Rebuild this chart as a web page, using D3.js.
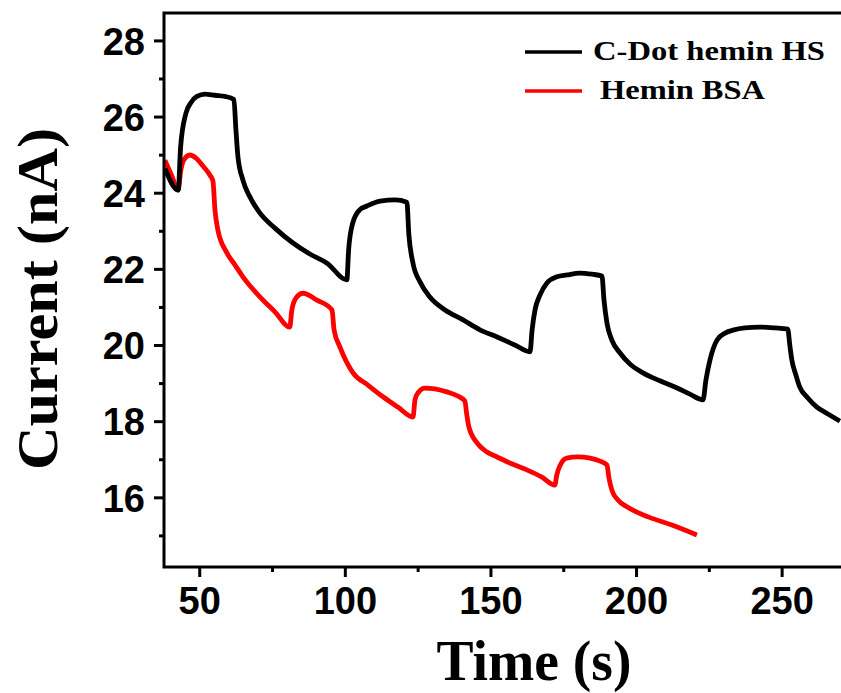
<!DOCTYPE html>
<html>
<head>
<meta charset="utf-8">
<script src="https://cdn.jsdelivr.net/npm/d3@7"></script>
<style>
  html, body { margin: 0; padding: 0; background: #fff; }
  svg { display: block; }
</style>
</head>
<body>
<script>
// ---- data ----
const seriesNames = ["C-Dot hemin HS", "Hemin BSA"];
const seriesColors = ["#000000", "#ff0000"];

const timeHS = [38.2, 42.8, 43.6, 45.4, 47.2, 49.2, 52.0, 55.4, 58.8, 61.9,
  62.6, 63.3, 65.0, 67.4, 70.8, 76.0, 82.2, 88.0, 93.9, 100.7,
  101.3, 102.7, 105.1, 107.6, 112.1, 117.3, 121.3,
  122.0, 123.4, 125.8, 129.2, 134.4, 140.6, 146.4, 152.3, 158.4, 163.6,
  164.3, 165.3, 167.0, 169.4, 172.8, 176.3, 180.7, 184.9, 188.3,
  189.0, 190.0, 191.7, 194.5, 197.9, 202.4, 208.2, 214.1, 218.5, 223.0,
  224.0, 225.4, 227.8, 230.5, 233.3, 237.4, 242.5, 247.7, 252.1,
  252.8, 253.5, 254.9, 256.2, 259.0, 262.1, 265.9, 270.0];
const currentHS = [24.64, 24.07, 25.2, 26.08, 26.37, 26.53, 26.59, 26.56, 26.53, 26.45,
  25.65, 24.94, 24.33, 23.89, 23.47, 23.07, 22.68, 22.39, 22.15, 21.71,
  22.5, 23.2, 23.55, 23.65, 23.78, 23.81, 23.75,
  22.89, 22.15, 21.66, 21.26, 20.92, 20.66, 20.40, 20.21, 20.0, 19.82,
  20.39, 20.92, 21.31, 21.63, 21.79, 21.84, 21.89, 21.86, 21.81,
  21.18, 20.58, 20.13, 19.79, 19.5, 19.27, 19.06, 18.87, 18.71, 18.56,
  19.08, 19.61, 20.13, 20.31, 20.39, 20.45, 20.47, 20.45, 20.42,
  20.0, 19.61, 19.21, 18.9, 18.61, 18.37, 18.19, 18.0];

const timeBSA = [38.2, 40.6, 42.7, 43.7, 44.7, 46.8, 48.9, 51.3, 53.7, 54.7,
  55.4, 56.4, 59.5, 62.3, 65.0, 70.9, 76.0, 81.1,
  81.8, 83.2, 85.6, 90.4, 95.6,
  96.3, 98.3, 102.8, 107.9, 113.1, 118.2, 123.4,
  124.1, 125.1, 127.5, 130.9, 135.0, 138.8, 141.2,
  141.9, 142.6, 145.4, 148.8, 152.3, 157.3, 162.5, 167.7, 172.1,
  172.8, 173.8, 176.2, 180.0, 184.2, 187.6, 190.0,
  190.7, 191.7, 193.8, 196.9, 204.4, 212.3, 220.9];
const currentBSA = [24.85, 24.44, 24.07, 24.6, 24.86, 24.99, 24.91, 24.70, 24.46, 24.31,
  23.55, 23.02, 22.42, 22.1, 21.79, 21.26, 20.87, 20.47,
  20.92, 21.23, 21.36, 21.18, 20.92,
  20.40, 19.95, 19.27, 18.95, 18.64, 18.37, 18.11,
  18.56, 18.74, 18.87, 18.85, 18.77, 18.66, 18.53,
  18.16, 17.85, 17.43, 17.19, 17.06, 16.88, 16.72, 16.53, 16.32,
  16.59, 16.82, 17.03, 17.06, 17.03, 16.95, 16.85,
  16.51, 16.19, 15.93, 15.75, 15.48, 15.27, 15.01];

const xMajorTicks = [50, 100, 150, 200, 250];
const xMinorTicks = [75, 125, 175, 225, 275];
const yMajorTicks = [16, 18, 20, 22, 24, 26, 28];
const yMinorTicks = [15, 17, 19, 21, 23, 25, 27];

const xTitle = "Time (s)";
const yTitle = "Current (nA)";

// ---- layout ----
const W = 841, H = 693;
const pLeft = 164, pRight = 845.7, pTop = 13, pBottom = 567;

const svg = d3.select("body").append("svg").attr("width", W).attr("height", H);

const x = d3.scaleLinear().domain([37.9, 272]).range([pLeft, pRight]);
const y = d3.scaleLinear().domain([14.17, 28.72]).range([pBottom, pTop]);

const tickFont = "'Liberation Sans', Arial, sans-serif";
const serif = "'Liberation Serif', 'Times New Roman', serif";

svg.append("clipPath").attr("id", "clip").append("rect")
  .attr("x", pLeft).attr("y", pTop).attr("width", pRight - pLeft).attr("height", pBottom - pTop);

const line = d3.line().x(d => x(d[0])).y(d => y(d[1])).curve(d3.curveMonotoneX);
const dataHS = timeHS.map((t, i) => [t, currentHS[i]]);
const dataBSA = timeBSA.map((t, i) => [t, currentBSA[i]]);
const g = svg.append("g").attr("clip-path", "url(#clip)");
g.append("path").datum(dataBSA).attr("d", line).attr("fill", "none")
  .attr("stroke", seriesColors[1]).attr("stroke-width", 4.8).attr("stroke-linejoin", "round");
g.append("path").datum(dataHS).attr("d", line).attr("fill", "none")
  .attr("stroke", seriesColors[0]).attr("stroke-width", 4.8).attr("stroke-linejoin", "round");

const xAxisMajor = d3.axisBottom(x).tickValues(xMajorTicks).tickSize(10).tickSizeOuter(0).tickPadding(10);
const xAx = svg.append("g").attr("transform", `translate(0,${pBottom})`).call(xAxisMajor);
const xAxisMinor = d3.axisBottom(x).tickValues(xMinorTicks).tickSize(5).tickSizeOuter(0).tickFormat("");
const xAxm = svg.append("g").attr("transform", `translate(0,${pBottom})`).call(xAxisMinor);
const yAxisMajor = d3.axisLeft(y).tickValues(yMajorTicks).tickSize(10).tickSizeOuter(0).tickPadding(9);
const yAx = svg.append("g").attr("transform", `translate(${pLeft},0)`).call(yAxisMajor);
const yAxisMinor = d3.axisLeft(y).tickValues(yMinorTicks).tickSize(5).tickSizeOuter(0).tickFormat("");
const yAxm = svg.append("g").attr("transform", `translate(${pLeft},0)`).call(yAxisMinor);

[xAx, xAxm, yAx, yAxm].forEach(a => {
  a.select(".domain").remove();
  a.selectAll(".tick line").attr("stroke", "#000").attr("stroke-width", 3);
  a.selectAll("text").attr("font-family", tickFont).attr("font-weight", "bold")
    .attr("font-size", 38).attr("fill", "#000");
});
xAx.selectAll("text").attr("dy", "0.71em");
yAx.selectAll("text").attr("dy", "0.36em");

svg.append("rect").attr("x", pLeft).attr("y", pTop).attr("width", pRight - pLeft).attr("height", pBottom - pTop)
  .attr("fill", "none").attr("stroke", "#000").attr("stroke-width", 3);

svg.append("text").attr("x", 534).attr("y", 680).attr("text-anchor", "middle")
  .attr("font-family", serif).attr("font-weight", "bold").attr("font-size", 56)
  .attr("textLength", 195).attr("lengthAdjust", "spacingAndGlyphs")
  .text(xTitle);
svg.append("text").attr("transform", "translate(57,299) rotate(-90)").attr("text-anchor", "middle")
  .attr("font-family", serif).attr("font-weight", "bold").attr("font-size", 58)
  .attr("textLength", 342).attr("lengthAdjust", "spacingAndGlyphs")
  .text(yTitle);

const legY = [52, 91];
const legTextX = [593, 600];
const legTextLen = [232, 165];
seriesNames.forEach((name, i) => {
  svg.append("line").attr("x1", 525).attr("x2", 582).attr("y1", legY[i]).attr("y2", legY[i])
    .attr("stroke", seriesColors[i]).attr("stroke-width", 3.5);
  svg.append("text").attr("x", legTextX[i]).attr("y", legY[i] + 8)
    .attr("font-family", serif).attr("font-weight", "bold").attr("font-size", 27)
    .attr("textLength", legTextLen[i]).attr("lengthAdjust", "spacingAndGlyphs")
    .text(name);
});
</script>
</body>
</html>
